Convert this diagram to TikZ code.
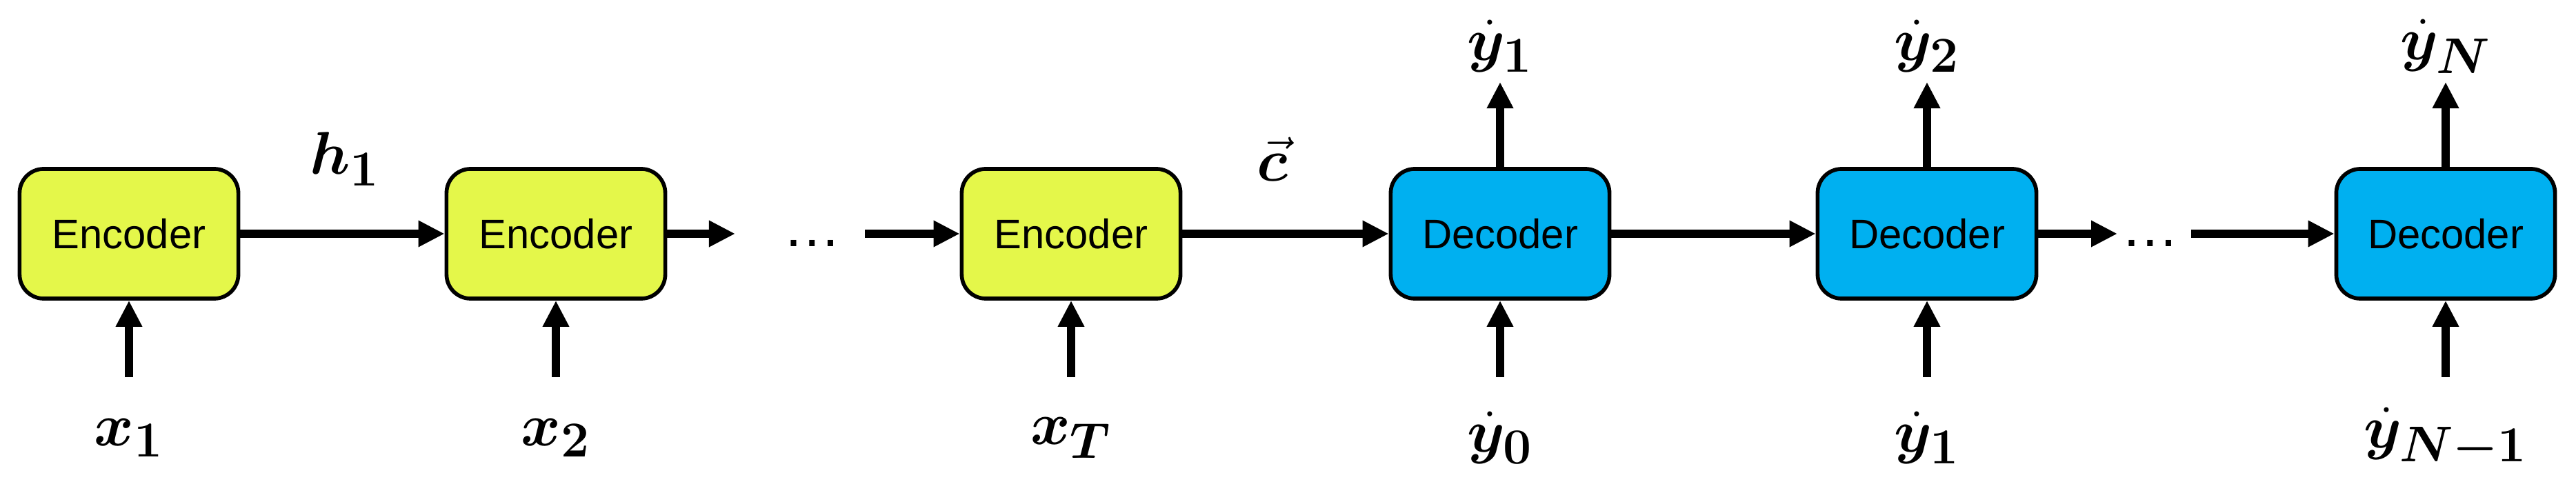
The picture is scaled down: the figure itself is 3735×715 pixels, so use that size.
\documentclass[tikz,border=0pt]{standalone}
\usepackage{amsmath,bm}
\usepackage{fontspec}
\setmainfont{Liberation Sans}
\usetikzlibrary{arrows.meta}
\definecolor{enc}{HTML}{E4F74A}
\definecolor{dec}{HTML}{00B0F0}
\begin{document}
\begin{tikzpicture}[x=0.01cm,y=0.01cm,
  box/.style={draw=black,line width=1.6pt,rounded corners=0.35cm,minimum width=3.17cm,minimum height=1.88cm,font=\fontsize{17}{19}\selectfont},
  ar/.style={line width=3.3pt,-{Triangle[length=0.38cm,width=0.36cm]}},
  lab/.style={font=\fontsize{28}{32}\selectfont}]
\useasboundingbox (0,0) rectangle (3735,715);
\node[box,fill=enc] (e1) at (187,376) {Encoder};
\node[box,fill=enc] (e2) at (806,376) {Encoder};
\node[box,fill=enc] (e3) at (1553,376) {Encoder};
\node[box,fill=dec] (d1) at (2175,376) {Decoder};
\node[box,fill=dec] (d2) at (2794,376) {Decoder};
\node[box,fill=dec] (d3) at (3546,376) {Decoder};
\node[font=\fontsize{24}{26}\selectfont] (dots1) at (1178,362) {\dots};
\node[font=\fontsize{24}{26}\selectfont] (dots2) at (3118,362) {\dots};
\coordinate (a1) at (1066,376);
\coordinate (a2) at (1254,376);
\coordinate (b1) at (3070,376);
\coordinate (b2) at (3177,376);
\draw[ar] (e1) -- (e2);
\draw[ar] (e2) -- (a1);
\draw[ar] (a2) -- (e3);
\draw[ar] (e3) -- (d1);
\draw[ar] (d1) -- (d2);
\draw[ar] (d2) -- (b1);
\draw[ar] (b2) -- (d3);
\node[lab] (h1) at (500,484) {$\bm{h_1}$};
\node[lab] (c) at (1845,484) {$\vec{\bm{c}}$};
\foreach \n/\x/\t in {x1/187/{x_1},x2/806/{x_2},xT/1553/{x_T},y0/2175/{\dot y_0},y1b/2794/{\dot y_1},yN1/3546/{\dot y_{N-1}}}{
  \node[lab] (\n) at (\x,80) {$\bm{\t}$};
  \coordinate (s\n) at (\x,168);
}
\draw[ar] (sx1) -- (e1.south);
\draw[ar] (sx2) -- (e2.south);
\draw[ar] (sxT) -- (e3.south);
\draw[ar] (sy0) -- (d1.south);
\draw[ar] (sy1b) -- (d2.south);
\draw[ar] (syN1) -- (d3.south);
\foreach \n/\x/\t in {t1/2175/{\dot y_1},t2/2794/{\dot y_2},tN/3546/{\dot y_N}}{
  \node[lab] (\n) at (\x,648) {$\bm{\t}$};
  \coordinate (e\n) at (\x,596);
}
\draw[ar] (d1.north) -- (et1);
\draw[ar] (d2.north) -- (et2);
\draw[ar] (d3.north) -- (etN);
\end{tikzpicture}
\end{document}
